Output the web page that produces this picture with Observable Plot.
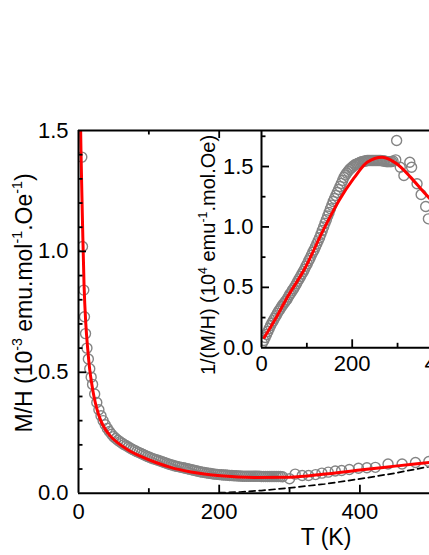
<!DOCTYPE html>
<html><head><meta charset="utf-8">
<script src="https://cdn.jsdelivr.net/npm/d3@7"></script>
<script src="https://cdn.jsdelivr.net/npm/@observablehq/plot@0.6"></script>
<style>
body{margin:0;background:#fff;}
#wrap{position:relative;width:429px;height:555px;overflow:hidden;}
#wrap svg{position:absolute;overflow:visible;}
</style></head><body><div id="wrap"></div>
<script>
// ---- main panel: M/H vs T (circles) ----
const mainT = [4.7,5.7,7.5,8.5,10,12,14,16,18,20,
 23,26,29,32,35,38,41,44,47,50,53,56,59,62,65,68,71,74,77,80,83,86,89,92,95,98,
 101,104,107,110,113,116,119,122,125,128,131,134,137,140,143,146,149,152,155,158,
 161,164,167,170,173,176,179,182,185,188,191,194,197,200,203,206,209,212,215,218,
 221,224,227,230,233,236,239,242,245,248,251,254,257,260,263,266,269,272,275,278,
 281,284,287,290,
 300,308,318,327,337,346,355,365,374,385,398,410,422,440,460,479,498];
const mainV = [1.39,1.02,0.84,0.73,0.66,0.60,0.555,0.515,0.48,0.45,
 0.41,0.375,0.345,0.32,0.30,0.283,0.268,0.255,0.244,0.234,0.226,0.219,0.213,0.207,0.201,0.196,0.191,0.186,0.181,0.177,0.172,0.168,0.164,0.160,0.156,0.152,
 0.149,0.145,0.142,0.139,0.136,0.133,0.130,0.127,0.124,0.121,0.118,0.116,0.113,0.111,0.109,0.107,0.105,0.103,0.101,0.099,
 0.097,0.095,0.093,0.091,0.089,0.087,0.086,0.084,0.083,0.082,0.080,0.079,0.078,0.077,0.076,0.075,0.075,0.074,0.073,0.073,
 0.072,0.072,0.071,0.071,0.070,0.070,0.070,0.070,0.070,0.070,0.070,0.070,0.070,0.069,0.069,0.069,0.069,0.069,0.069,0.069,
 0.069,0.069,0.069,0.068,
 0.060,0.079,0.073,0.073,0.077,0.083,0.087,0.092,0.094,0.098,0.103,0.105,0.107,0.121,0.121,0.127,0.131];
// red fit (main)
const fitT = [2.5,3.5,4.7,6,7.9,10.4,13,16,19,22,26,31.7,38,45,57.7,70,91,110,131,160,202,250,300,350,400,450,500];
const fitV = [1.6,1.42,1.25,1.08,0.86,0.70,0.60,0.51,0.45,0.40,0.35,0.30,0.265,0.237,0.204,0.18,0.149,0.127,0.107,0.088,0.072,0.065,0.066,0.079,0.096,0.112,0.128];
// dashed component (main)
const bgT = [200,230,260,300,350,400,450,500];
const bgV = [0.002,0.005,0.011,0.022,0.038,0.059,0.083,0.111];

// ---- inset: 1/(M/H) vs T ----
const insT = [2,5,8,11,14,17,20,23,26,29,32,35,38,41,44,47,50,53,56,59,62,65,68,71,74,77,80,83,86,89,92,95,98,
 101,104,107,110,113,116,119,122,125,128,131,134,137,140,143,146,149,152,155,158,161,164,167,170,173,176,179,182,
 185,188,191,194,197,200,203,206,209,212,215,218,221,224,227,230,233,236,239,242,245,248,251,254,257,260,263,266,
 269,272,275,278,281,284,287,290,
 296,298,306,314,327,331,343,352,362,368];
const insV = [0.04,0.06,0.085,0.11,0.135,0.16,0.185,0.205,0.225,0.245,0.265,0.285,0.305,0.32,0.34,0.355,0.37,0.385,0.40,0.42,0.44,0.455,0.475,0.49,0.51,0.53,0.55,0.57,0.59,0.61,0.63,0.65,0.675,
 0.695,0.72,0.74,0.765,0.79,0.81,0.835,0.86,0.885,0.91,0.94,0.97,1.00,1.03,1.06,1.09,1.12,1.15,1.18,1.21,1.235,1.26,1.285,1.31,1.335,1.36,1.385,1.41,
 1.43,1.445,1.46,1.475,1.485,1.495,1.505,1.515,1.52,1.525,1.53,1.535,1.54,1.54,1.545,1.545,1.55,1.55,1.55,1.55,1.55,1.55,1.55,1.55,1.55,1.55,1.55,1.548,
 1.545,1.545,1.54,1.54,1.54,1.54,1.54,1.545,
 1.555,1.715,1.494,1.425,1.535,1.494,1.357,1.268,1.169,1.067];
const insFitT = [6,8.8,30,57,97,134,171,204,233,266,299,329,358,372];
const insFitV = [0.085,0.102,0.235,0.418,0.667,0.957,1.219,1.405,1.536,1.577,1.52,1.41,1.287,1.23];

// tick labels
const mainXLabels = [0,200,400];
const mainYLabels = [0,0.5,1.0,1.5];
const insXLabels = [0,200,400];
const insYLabels = [0,0.5,1.0,1.5];

const zip = (a,b) => a.map((t,i)=>({T:t, v:b[i]}));
const mainData = zip(mainT, mainV), fitData = zip(fitT, fitV), bgData = zip(bgT, bgV);
const insData = zip(insT, insV), insFitData = zip(insFitT, insFitV);

const FONT = "Liberation Sans, Arial, Helvetica, sans-serif";
const wrap = document.getElementById("wrap");
const CIRC = {r: 5, stroke: "#848484", strokeWidth: 1.4, fill: "none", clip: true};

// main
const W = 429, H = 555, mL = 78, mT = 130, mB = 62.3;
const pW = W - mL, pH = H - mT - mB;
const TK = 8, tk = 4.5, SW = 1.8;
const main = Plot.plot({
  width: W, height: H, marginLeft: mL, marginRight: 0, marginTop: mT, marginBottom: mB,
  style: {fontFamily: FONT, fontSize: "22px", color: "black", background: "transparent", overflow: "visible"},
  x: {domain: [0, pW / 0.7035]},
  y: {domain: [0, 1.5]},
  marks: [
    Plot.line(bgData, {x: "T", y: "v", stroke: "black", strokeWidth: 1.7, strokeDasharray: "6,4", clip: true}),
    Plot.dot(mainData, {x: "T", y: "v", ...CIRC}),
    Plot.line(fitData, {x: "T", y: "v", stroke: "#ff0000", strokeWidth: 3, curve: "monotone-x", clip: true}),
    Plot.ruleX([0], {stroke: "black", strokeWidth: 2}),
    Plot.ruleY([0, 1.5], {stroke: "black", strokeWidth: 2}),
    Plot.tickX([200, 400], {x: d => d, insetTop: pH - TK, stroke: "black", strokeWidth: SW}),
    Plot.tickX([100, 300], {x: d => d, insetTop: pH - tk, stroke: "black", strokeWidth: SW}),
    Plot.tickX([200], {x: d => d, insetBottom: pH - TK, stroke: "black", strokeWidth: SW}),
    Plot.tickX([100], {x: d => d, insetBottom: pH - tk, stroke: "black", strokeWidth: SW}),
    Plot.tickY([0.5, 1.0], {y: d => d, insetRight: pW - TK, stroke: "black", strokeWidth: SW}),
    Plot.tickY([0.1,0.2,0.3,0.4,0.6,0.7,0.8,0.9,1.1,1.2,1.3,1.4], {y: d => d, insetRight: pW - tk, stroke: "black", strokeWidth: SW}),
    Plot.axisX({ticks: mainXLabels, tickSize: 0, tickPadding: 10, label: null, tickFormat: d => String(d)}),
    Plot.axisY({ticks: mainYLabels, tickSize: 0, tickPadding: 10, label: null, tickFormat: d3.format(".1f")})
  ]
});
main.style.left = "0px"; main.style.top = "0px";
wrap.appendChild(main);

// inset
const iLeft = 190, iTop = 120, iW = 239, iH = 260;
const imL = 261 - iLeft, imT = 130 - iTop, imB = iH - (347.3 - iTop);
const ipW = iW - imL, ipH = iH - imT - imB;
const inset = Plot.plot({
  width: iW, height: iH, marginLeft: imL, marginRight: 0, marginTop: imT, marginBottom: imB,
  style: {fontFamily: FONT, fontSize: "22px", color: "black", background: "transparent", overflow: "visible"},
  x: {domain: [0, ipW / 0.4535]},
  y: {domain: [0, ipH / 120.87]},
  marks: [
    Plot.dot(insData, {x: "T", y: "v", ...CIRC}),
    Plot.line(insFitData, {x: "T", y: "v", stroke: "#ff0000", strokeWidth: 3, curve: "monotone-x", clip: true}),
    Plot.ruleX([0], {stroke: "black", strokeWidth: 2}),
    Plot.ruleY([0], {stroke: "black", strokeWidth: 2}),
    Plot.tickX([200], {x: d => d, insetTop: ipH - TK, stroke: "black", strokeWidth: SW}),
    Plot.tickX([100, 300], {x: d => d, insetTop: ipH - tk, stroke: "black", strokeWidth: SW}),
    Plot.tickY([0.5, 1.0, 1.5], {y: d => d, insetRight: ipW - TK, stroke: "black", strokeWidth: SW}),
    Plot.tickY([0.25, 0.75, 1.25, 1.75], {y: d => d, insetRight: ipW - tk, stroke: "black", strokeWidth: SW}),
    Plot.axisX({ticks: insXLabels, tickSize: 0, tickPadding: 8, label: null, tickFormat: d => String(d)}),
    Plot.axisY({ticks: insYLabels, tickSize: 0, tickPadding: 8, label: null, tickFormat: d3.format(".1f")})
  ]
});
inset.style.left = iLeft + "px"; inset.style.top = iTop + "px";
wrap.appendChild(inset);

// axis titles with superscripts
function addLabel(svg, x, y, rot, parts, size) {
  const t = d3.select(svg).append("text")
    .attr("transform", `translate(${x},${y}) rotate(${rot})`)
    .attr("text-anchor", "middle").attr("font-family", FONT)
    .attr("font-size", size).attr("fill", "black");
  let shifted = false;
  for (const [s, sup] of parts) {
    const sp = t.append("tspan").text(s);
    if (sup) { sp.attr("font-size", size * 0.62).attr("dy", -size * 0.4); shifted = true; }
    else if (shifted) { sp.attr("dy", size * 0.4); shifted = false; }
  }
}
addLabel(main, 326, 545, 0, [["T (K)", false]], 23);
addLabel(main, 31.5, 303, -90, [["M/H (10", false], ["-3", true], [" emu.mol", false], ["-1", true], [".Oe", false], ["-1", true], [")", false]], 23);
addLabel(inset, 215 - iLeft, 255 - iTop, -90, [["1/(M/H) (10", false], ["4", true], [" emu", false], ["-1", true], [".mol.Oe)", false]], 20);
</script></body></html>
